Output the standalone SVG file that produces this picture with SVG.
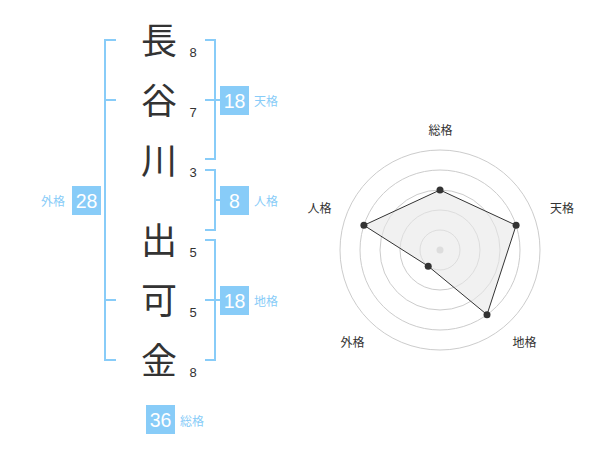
<svg xmlns="http://www.w3.org/2000/svg" width="600" height="470" viewBox="0 0 600 470">
<style>
.kanji{font-family:"Noto Sans CJK JP","Noto Sans CJK SC",sans-serif;font-size:36px;fill:#333;text-anchor:middle}
.num{font-family:"Liberation Sans","Noto Sans CJK JP",sans-serif;font-size:13px;fill:#333;text-anchor:middle}
.br{fill:none;stroke:#88ccf8;stroke-width:2}
.box{fill:#88ccf8}
.bt{font-family:"Liberation Sans","Noto Sans CJK JP",sans-serif;font-size:19.5px;fill:#fff;text-anchor:middle}
.lb{font-family:"Noto Sans CJK JP",sans-serif;font-size:12px;fill:#88ccf8}
.ring{fill:none;stroke:#cccccc;stroke-width:1}
.rl{font-family:"Noto Sans CJK JP",sans-serif;font-size:12px;fill:#333;text-anchor:middle}
</style>
<rect width="600" height="470" fill="#fff"/>
<g id="name">
<text class="kanji" x="159" y="54">長</text>
<text class="kanji" x="159" y="114">谷</text>
<text class="kanji" x="159" y="174">川</text>
<text class="kanji" x="159" y="254">出</text>
<text class="kanji" x="159" y="314">可</text>
<text class="kanji" x="159" y="374">金</text>
</g>
<g id="strokes">
<text class="num" x="193" y="57">8</text>
<text class="num" x="193" y="117">7</text>
<text class="num" x="193" y="177">3</text>
<text class="num" x="193" y="257">5</text>
<text class="num" x="193" y="317">5</text>
<text class="num" x="193" y="377">8</text>
</g>
<g id="connectors">
<path class="br" d="M116,40 H105 V360 H116 M105,100 H116 M105,300 H116"/>
<path class="br" d="M205,40 H215 V159 H205 M205,100 H220"/>
<path class="br" d="M205,170 H215 V230 H205 M215,200 H220"/>
<path class="br" d="M205,240 H215 V360 H205 M205,300 H220"/>
</g>
<g id="tenkaku">
<rect class="box" x="220" y="86" width="29" height="29"/>
<text class="bt" x="234.5" y="107.5">18</text>
<text class="lb" x="254" y="106">天格</text>
</g>
<g id="jinkaku">
<rect class="box" x="220" y="186" width="29" height="29"/>
<text class="bt" x="234.5" y="207.5">8</text>
<text class="lb" x="254" y="206">人格</text>
</g>
<g id="chikaku">
<rect class="box" x="220" y="286" width="29" height="29"/>
<text class="bt" x="234.5" y="307.5">18</text>
<text class="lb" x="254" y="306">地格</text>
</g>
<g id="gaikaku">
<rect class="box" x="72" y="186" width="29" height="29"/>
<text class="bt" x="86.5" y="207.5">28</text>
<text class="lb" x="41" y="206">外格</text>
</g>
<g id="soukaku">
<rect class="box" x="146" y="405" width="29" height="29"/>
<text class="bt" x="160.5" y="426.5">36</text>
<text class="lb" x="180" y="426">総格</text>
</g>
<g id="radar">
<circle class="ring" cx="440" cy="250" r="20"/>
<circle class="ring" cx="440" cy="250" r="40"/>
<circle class="ring" cx="440" cy="250" r="60"/>
<circle class="ring" cx="440" cy="250" r="80"/>
<circle class="ring" cx="440" cy="250" r="100"/>
<circle cx="440" cy="250" r="3.5" fill="#cccccc"/>
<polygon points="440,190 516.1,225.3 487,314.7 428.2,266.2 363.9,225.3" fill="#e8e8e8" fill-opacity="0.6" stroke="#333" stroke-width="1"/>
<g fill="#333">
<circle cx="440" cy="190" r="3.5"/>
<circle cx="516.1" cy="225.3" r="3.5"/>
<circle cx="487" cy="314.7" r="3.5"/>
<circle cx="428.2" cy="266.2" r="3.5"/>
<circle cx="363.9" cy="225.3" r="3.5"/>
</g>
<text class="rl" x="440.5" y="135">総格</text>
<text class="rl" x="562" y="213">天格</text>
<text class="rl" x="319.5" y="213">人格</text>
<text class="rl" x="524.5" y="347">地格</text>
<text class="rl" x="352.5" y="347">外格</text>
</g>
</svg>
